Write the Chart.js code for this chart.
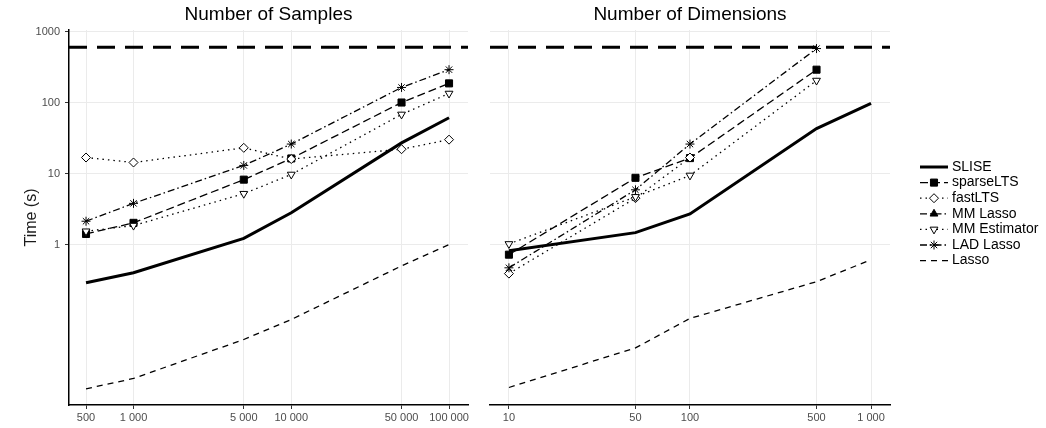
<!DOCTYPE html>
<html>
<head>
<meta charset="utf-8">
<script src="https://cdn.jsdelivr.net/npm/chart.js@4.4.1/dist/chart.umd.min.js"></script>
<style>
  html, body { margin: 0; padding: 0; background: #fff; }
  #wrap { position: relative; width: 1046px; height: 428px; }
  canvas { position: absolute; top: 0; }
</style>
</head>
<body>
<div id="wrap">
  <canvas id="samplesChart" width="480" height="428" style="left:0"></canvas>
  <canvas id="dimsChart" width="566" height="428" style="left:480px"></canvas>
</div>
<script>
// x categories of the two panels
const sampleSizes = [500, 1000, 5000, 10000, 50000, 100000];
const dimSizes = [10, 50, 100, 500, 1000];
const yTicks = [1, 10, 100, 1000];
const timeLimit = 600;

// times (s) when varying the number of samples
const sliseN     = [0.29, 0.40, 1.22, 2.8, 27, 61];
const sparseN    = [1.41, 2.02, 8.2, 16.3, 100, 186];
const fastN      = [16.8, 14.3, 23, 16.0, 22, 30];
const mmLassoN   = [null, null, null, null, null, null];
const mmEstN     = [1.54, 1.85, 5.2, 9.7, 68, 134];
const ladN       = [2.13, 3.8, 13, 26, 163, 290];
const lassoN     = [0.0093, 0.013, 0.046, 0.088, 0.5, 1.0];

// times (s) when varying the number of dimensions
const sliseD     = [0.82, 1.47, 2.7, 43, 97];
const sparseD    = [0.72, 8.7, 16.5, 290, null];
const fastD      = [0.39, 4.5, 16.8, null, null];
const mmLassoD   = [null, null, null, null, null];
const mmEstD     = [1.02, 4.7, 9.4, 204, null];
const ladD       = [0.47, 5.9, 26, 575, null];
const lassoD     = [0.0097, 0.035, 0.091, 0.30, 0.61];

const methodNames = ['SLISE', 'sparseLTS', 'fastLTS', 'MM Lasso', 'MM Estimator', 'LAD Lasso', 'Lasso'];

Chart.defaults.font.family = '"Liberation Sans", Arial, sans-serif';
Chart.defaults.color = '#4d4d4d';
Chart.defaults.animation = false;

// line type + marker of each method
const looks = {
  'SLISE':        { dash: [], width: 3, pointStyle: false },
  'sparseLTS':    { dash: [8, 4], width: 1.3, pointStyle: 'rect', radius: 5, fill: '#000' },
  'fastLTS':      { dash: [1.5, 4], width: 1.3, pointStyle: 'rectRot', radius: 4.5, fill: '#fff' },
  'MM Lasso':     { dash: [7, 3, 1.5, 3], width: 1.3, pointStyle: 'triangle', radius: 4.5, fill: '#000' },
  'MM Estimator': { dash: [1.5, 4], width: 1.3, pointStyle: 'triangle', radius: 4.5, fill: '#fff', rotation: 180 },
  'LAD Lasso':    { dash: [7, 3, 1.5, 3], width: 1.3, pointStyle: 'star', radius: 4.5, fill: '#000' },
  'Lasso':        { dash: [6, 5], width: 1.3, pointStyle: false }
};

function series(xs, ys) {
  return xs.map((x, i) => ({ x: x, y: ys[i] })).filter(p => p.y !== null);
}

function makeDatasets(xs, columns) {
  return methodNames.map((name, i) => {
    const l = looks[name];
    return {
      label: name,
      data: series(xs, columns[i]),
      borderColor: '#000',
      borderWidth: l.width,
      borderDash: l.dash,
      borderCapStyle: 'butt',
      fill: false,
      tension: 0,
      pointStyle: l.pointStyle,
      pointRadius: l.pointStyle ? l.radius : 0,
      pointRotation: l.rotation || 0,
      pointBackgroundColor: l.fill || '#000',
      pointBorderColor: '#000',
      pointBorderWidth: 1,
      order: 7 - i
    };
  });
}

function fmt(v) {
  return String(v).replace(/\B(?=(\d{3})+(?!\d))/g, ' ');
}

function makeScales(xMin, xMax, xVals, leftPanel) {
  return {
    x: {
      type: 'logarithmic',
      min: xMin,
      max: xMax,
      afterBuildTicks: (s) => { s.ticks = xVals.map(v => ({ value: v })); },
      afterFit: (s) => { s.height = 23; },
      ticks: { callback: (v) => fmt(v), font: { size: 11 }, color: '#4d4d4d', padding: 2, maxRotation: 0, autoSkip: false },
      grid: { color: '#ebebeb', lineWidth: 1, tickLength: 4, tickColor: '#333', tickWidth: 1 },
      border: { display: true, color: '#000', width: 1.5 }
    },
    y: {
      type: 'logarithmic',
      min: 0.0055,
      max: 1050,
      afterBuildTicks: (s) => { s.ticks = yTicks.map(v => ({ value: v })); },
      afterFit: (s) => { s.width = leftPanel ? 69 : 10; },
      ticks: { display: leftPanel, callback: (v) => String(v), font: { size: 11 }, color: '#4d4d4d', padding: 5 },
      grid: { color: '#ebebeb', lineWidth: 1, drawTicks: leftPanel, tickLength: 4, tickColor: '#333', tickWidth: 1 },
      border: { display: leftPanel, color: '#000', width: 1.5 },
      title: leftPanel ? { display: true, text: 'Time (s)', color: '#1a1a1a', font: { size: 16 }, padding: { top: 22, bottom: 0 } } : { display: false }
    }
  };
}

// panel title and the time limit line
const panelDecor = {
  id: 'panelDecor',
  beforeDatasetsDraw(chart, args, opts) {
    const ctx = chart.ctx;
    const a = chart.chartArea;
    const yPix = chart.scales.y.getPixelForValue(timeLimit);
    ctx.save();
    ctx.beginPath();
    ctx.setLineDash([18, 10]);
    ctx.lineWidth = 3;
    ctx.strokeStyle = '#000';
    ctx.moveTo(a.left, yPix);
    ctx.lineTo(a.right, yPix);
    ctx.stroke();
    ctx.restore();
  },
  afterDraw(chart, args, opts) {
    const ctx = chart.ctx;
    const a = chart.chartArea;
    ctx.save();
    ctx.font = '19px "Liberation Sans", Arial, sans-serif';
    ctx.fillStyle = '#000';
    ctx.textAlign = 'center';
    ctx.textBaseline = 'middle';
    ctx.fillText(opts.text, (a.left + a.right) / 2, 15);
    ctx.restore();
  }
};

// legend in the free space right of the second panel
const sideLegend = {
  id: 'sideLegend',
  afterDraw(chart) {
    const ctx = chart.ctx;
    const x0 = 440, x1 = 468, tx = 472;
    let y = 167;
    chart.data.datasets.forEach((ds) => {
      ctx.save();
      ctx.strokeStyle = '#000';
      ctx.lineWidth = ds.borderWidth;
      ctx.setLineDash(ds.borderDash);
      ctx.beginPath();
      ctx.moveTo(x0, y);
      ctx.lineTo(x1, y);
      ctx.stroke();
      ctx.setLineDash([]);
      if (ds.pointStyle && Chart.helpers && Chart.helpers.drawPoint) {
        ctx.fillStyle = ds.pointBackgroundColor;
        ctx.lineWidth = 1;
        Chart.helpers.drawPoint(ctx, { pointStyle: ds.pointStyle, radius: ds.pointRadius, rotation: ds.pointRotation, borderWidth: 1 }, (x0 + x1) / 2, y);
      }
      ctx.font = '14px "Liberation Sans", Arial, sans-serif';
      ctx.fillStyle = '#000';
      ctx.textAlign = 'left';
      ctx.textBaseline = 'middle';
      ctx.fillText(ds.label, tx, y);
      ctx.restore();
      y += 15.6;
    });
  }
};

new Chart(document.getElementById('samplesChart'), {
  type: 'line',
  data: { datasets: makeDatasets(sampleSizes, [sliseN, sparseN, fastN, mmLassoN, mmEstN, ladN, lassoN]) },
  options: {
    responsive: false,
    layout: { padding: { top: 30, right: 12, left: 0, bottom: 0 } },
    scales: makeScales(390, 131900, sampleSizes, true),
    plugins: { legend: { display: false }, tooltip: { enabled: false }, panelDecor: { text: 'Number of Samples' } }
  },
  plugins: [panelDecor]
});

new Chart(document.getElementById('dimsChart'), {
  type: 'line',
  data: { datasets: makeDatasets(dimSizes, [sliseD, sparseD, fastD, mmLassoD, mmEstD, ladD, lassoD]) },
  options: {
    responsive: false,
    layout: { padding: { top: 30, right: 156, left: 0, bottom: 0 } },
    scales: makeScales(7.86, 1273, dimSizes, false),
    plugins: { legend: { display: false }, tooltip: { enabled: false }, panelDecor: { text: 'Number of Dimensions' } }
  },
  plugins: [panelDecor, sideLegend]
});
</script>
</body>
</html>
